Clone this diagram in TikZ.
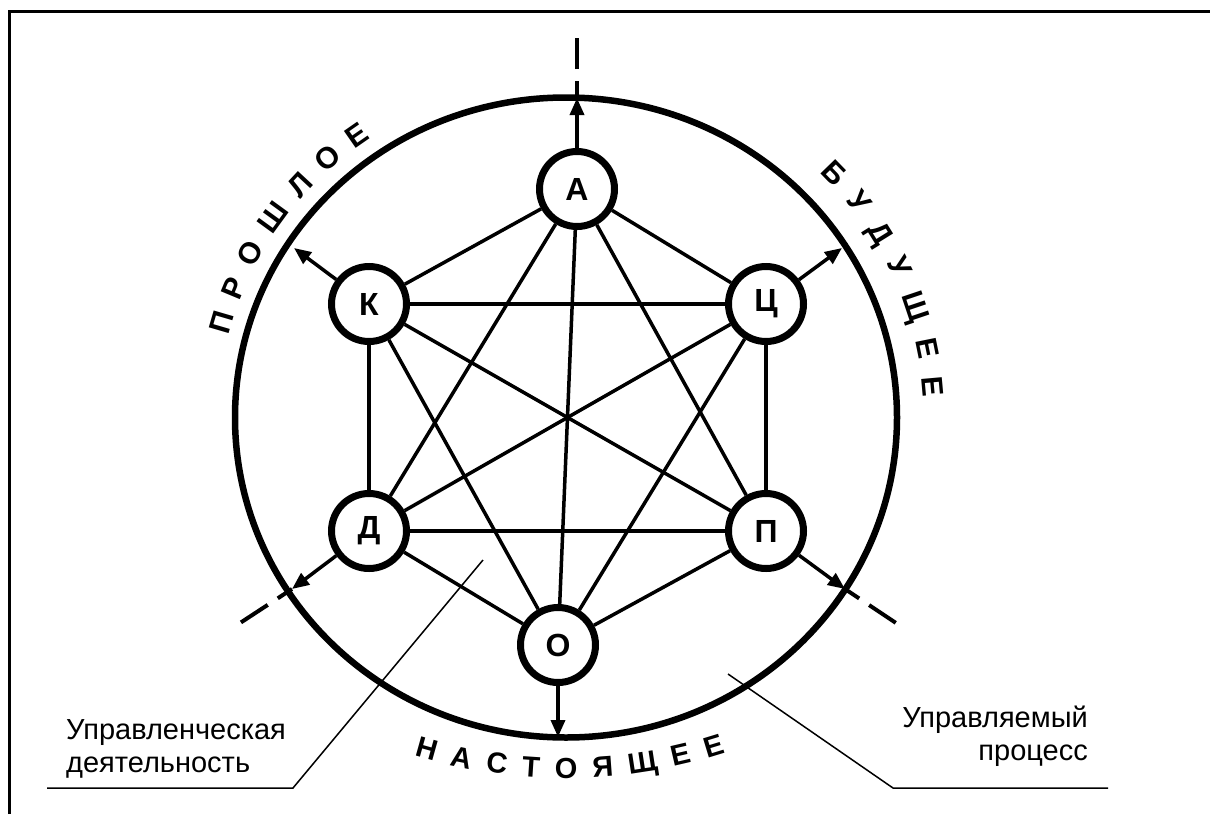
\documentclass[tikz,border=0pt]{standalone}
\usepackage{fontspec}
\setmainfont{Liberation Sans}
\usetikzlibrary{arrows.meta,decorations.text}
\begin{document}
\begin{tikzpicture}[x=1pt,y=1pt,
  vert/.style={circle,draw,line width=7pt,fill=white,minimum size=75pt,inner sep=0pt,font=\fontsize{32pt}{32pt}\selectfont\bfseries},
  edge/.style={line width=3.5pt},
  outarrow/.style={line width=3.5pt,-{Triangle[length=17pt,width=14pt]}},
  ext/.style={line width=4pt,dash pattern=on 17pt off 12pt on 32pt off 300pt},
  lead/.style={line width=1.5pt},
  arcword/.style={decorate,decoration={text along path,text align=fit to path}},
  lab/.style={font=\fontsize{29pt}{33pt}\selectfont,inner sep=0pt}]
\useasboundingbox (0,0) rectangle (1210,-814);
% frame
\draw[line width=2.5pt] (9.5,-814) -- (9.5,-11.5) -- (1210,-11.5);
% big circle
\draw[line width=6.5pt] (566,-417.5) ellipse [x radius=331, y radius=320];
% vertices
\node[vert] (A) at (577,-189) {А};
\node[vert] (K) at (369,-304) {К};
\node[vert] (C) at (766,-304) {Ц};
\node[vert] (D) at (369,-531) {Д};
\node[vert] (P) at (766,-531) {П};
\node[vert] (O) at (558,-645) {О};
% complete graph
\foreach \u/\v in {A/K,A/C,A/D,A/P,A/O,K/C,K/D,K/P,K/O,C/D,C/P,C/O,D/P,D/O,P/O}
  \draw[edge] (\u) -- (\v);
% arrow tips on the circle and extension ends
\coordinate (tA) at (577,-98);
\coordinate (tK) at (294,-248);
\coordinate (tC) at (842,-248);
\coordinate (tD) at (292,-589);
\coordinate (tP) at (845,-589);
\coordinate (tO) at (558,-737);
\coordinate (eA) at (577,-38);
\coordinate (eD) at (237,-625);
\coordinate (eP) at (899,-625);
\draw[outarrow] (A) -- (tA);
\draw[outarrow] (K) -- (tK);
\draw[outarrow] (C) -- (tC);
\draw[outarrow] (D) -- (tD);
\draw[outarrow] (P) -- (tP);
\draw[outarrow] (O) -- (tO);
\draw[ext] (tA) -- (eA);
\draw[ext] (tD) -- (eD);
\draw[ext] (tP) -- (eP);
% words along the circle
\path[arcword,decoration={text={|\fontsize{30pt}{30pt}\selectfont\bfseries|ПРОШЛОЕ}}]
  (566,-417.5) ++(166:348 and 337) arc[start angle=166,end angle=124,x radius=348,y radius=337];
\path[arcword,decoration={text={|\fontsize{30pt}{30pt}\selectfont\bfseries|БУДУЩЕЕ}}]
  (566,-417.5) ++(45:358 and 347) arc[start angle=45,end angle=3.3,x radius=358,y radius=347];
\path[arcword,decoration={text={|\fontsize{29pt}{29pt}\selectfont\bfseries|НАСТОЯЩЕЕ}}]
  (565,-256) ++(253.2:522) arc[start angle=253.2,end angle=288,radius=522];
% labels and leader lines
\node[lab,anchor=north west,align=left] (L1) at (66,-719) {Управленческая\\деятельность};
\node[lab,anchor=north east,align=right] (L2) at (1088,-706) {Управляемый\\процесс};
\coordinate (l1a) at (483,-560);
\coordinate (l1b) at (293,-788);
\coordinate (l1c) at (47,-788);
\coordinate (l2a) at (728,-674);
\coordinate (l2b) at (893,-788);
\coordinate (l2c) at (1108,-788);
\draw[lead] (l1a) -- (l1b) -- (l1c);
\draw[lead] (l2a) -- (l2b) -- (l2c);
\end{tikzpicture}
\end{document}
